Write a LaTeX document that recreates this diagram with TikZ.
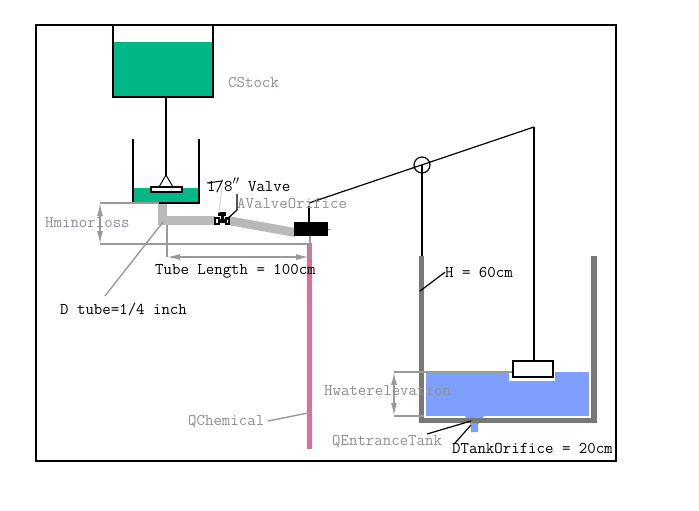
\documentclass[tikz,border=0pt]{standalone}
\usepackage{fontspec}
\usetikzlibrary{arrows.meta}
\definecolor{stockgreen}{HTML}{00B788}
\definecolor{tubegray}{HTML}{B9B9B9}
\definecolor{wallgray}{HTML}{787878}
\definecolor{dimgray}{HTML}{9A9A9A}
\definecolor{labelgray}{HTML}{8E8E96}
\definecolor{waterblue}{HTML}{7F9FFF}
\definecolor{chempink}{HTML}{DB7093}
\tikzset{
    lbl/.style={inner sep=0pt, font=\ttfamily\fontsize{16.4}{18}\selectfont},
    graylbl/.style={lbl, text=labelgray},
    wall/.style={draw=black, line width=2pt},
    dim/.style={draw=dimgray, line width=2pt},
    dimarrow/.style={draw=dimgray, line width=1.5pt, {Latex[length=13pt,width=6pt]}-{Latex[length=13pt,width=6pt]}},
    leader/.style={draw=black, line width=1.2pt},
    grayleader/.style={draw=dimgray, line width=1.4pt}
}

\begin{document}
\begin{tikzpicture}[x=1pt, y=-1pt]
\useasboundingbox (0,0) rectangle (699,511);

% fills first
\fill[stockgreen] (114,42) rectangle (212,96);
\fill[stockgreen] (134,188) rectangle (198,202);
\fill[tubegray] (158,203) rectangle (167,225);
\fill[tubegray] (167,216) rectangle (215,225);
\fill[tubegray] (228,216) -- (295,228) -- (295,237) -- (228,225) -- cycle;
\fill[chempink] (307,243) rectangle (312,449);
\fill[waterblue] (426,372) rectangle (589,416);
\fill[waterblue] (465,416) -- (484,416) -- (478,425) -- (478,432) -- (471,432) -- (471,425) -- cycle;
\fill[white] (509,372) rectangle (555,381);
\fill[wallgray] (419,256) rectangle (424,423);
\fill[wallgray] (591,256) rectangle (597,423);
\fill[wallgray] (419,418) rectangle (597,423);

% frame and tanks
\draw[wall] (36,25) rectangle (616,461);
\draw[wall] (113,25) -- (113,97) -- (213,97) -- (213,25);
\draw[wall] (133,139) -- (133,203) -- (199,203) -- (199,139);
\draw[wall] (166,97) -- (166,176);

% float valve in the small tank
\coordinate (apex) at (166,175);
\draw[draw=black, line width=1pt] (apex) -- (159,187);
\draw[draw=black, line width=1pt] (apex) -- (173,187);
\node[draw=black, fill=white, line width=1.5pt, minimum width=31pt, minimum height=5pt, inner sep=0pt] (floatsmall) at (166.5,189.5) {};

% dimensions
\coordinate (lossTop) at (100,203);
\coordinate (lossBot) at (100,244);
\coordinate (tubeLeft) at (167,257);
\coordinate (tubeRight) at (309,257);
\draw[dim] (lossTop) -- (159,203);
\draw[dim] (lossBot) -- (310,244);
\draw[dimarrow] (lossTop) -- (lossBot);
\draw[dim] (167,225) -- (tubeLeft);
\draw[dim] (310,236) -- (310,258);
\draw[dimarrow] (tubeLeft) -- (tubeRight);
\coordinate (waterTop) at (394,372);
\coordinate (waterBot) at (394,416);
\draw[dim] (waterTop) -- (513,372);
\draw[dim] (waterBot) -- (424,416);
\draw[dimarrow] (waterTop) -- (waterBot);

% valve
\draw[black, line width=2pt] (215,217.5) rectangle (218.5,224);
\draw[black, line width=2pt] (225.5,217.5) rectangle (229,224);
\fill[black] (218,219) rectangle (226,222.5);
\fill[black] (220.5,214) rectangle (223.5,220);
\fill[black] (218,211.5) rectangle (226,215.5);

% orifice block and lever
\node[fill=black, minimum width=34pt, minimum height=14pt, inner sep=0pt] (orifice) at (311,229) {};
\draw[dimgray, line width=1pt] (orifice.east) -- ++(3,0);
\coordinate (leverL) at (309,203);
\coordinate (leverR) at (534,127);
\node[circle, draw=black, line width=1.2pt, minimum size=16pt, inner sep=0pt] (pivot) at (422,165) {};
\draw[black, line width=1.2pt] (leverL) -- (leverR);
\draw[wall] (leverL) ++(0,3) -- (orifice.north -| leverL);
\draw[wall] (pivot.center) -- (422,256);
\node[draw=black, fill=white, line width=1.5pt, minimum width=40pt, minimum height=16pt, inner sep=0pt] (floatbig) at (533,369) {};
\draw[wall] (leverR) -- (floatbig.north -| leverR);

% labels
\node[graylbl, anchor=west] (cstock) at (228,82.3) {CStock};
\node[lbl, anchor=west] (valve) at (207,185.3) {1/8$''$ Valve};
\node[graylbl, anchor=west] (avalve) at (237,203.3) {AValveOrifice};
\node[graylbl, anchor=west] (hminor) at (45,222.3) {Hminorloss};
\node[lbl, anchor=west] (tubelen) at (155,271.3) {Tube Length = 100cm};
\node[lbl, anchor=west] (dtube) at (60,309.3) {D tube=1/4 inch};
\node[lbl, anchor=west] (hlabel) at (445,272.3) {H = 60cm};
\node[graylbl, anchor=west] (hwater) at (324,390.3) {Hwaterelevation};
\node[graylbl, anchor=west] (qchem) at (188,421.3) {QChemical};
\node[graylbl, anchor=west] (qentr) at (332,441.3) {QEntranceTank};
\node[lbl, anchor=west] (dtank) at (452,448.3) {DTankOrifice = 20cm};

% leaders
\coordinate (tubeJoint) at (163,222);
\coordinate (wallMark) at (420,291);
\coordinate (chemMark) at (308,413);
\coordinate (funnelL) at (471,421);
\coordinate (funnelB) at (471,425);
\coordinate (valveMark) at (224,222);
\coordinate (valveTop) at (219,213);
\coordinate (entrStart) at (427,434);
\coordinate (tankStart) at (455,443);
\draw[grayleader] (105,296) -- (tubeJoint);
\draw[leader] (hlabel.west) -- (wallMark);
\draw[grayleader] (268,421) -- (chemMark);
\draw[leader] (entrStart) -- (funnelL);
\draw[leader] (tankStart) -- (funnelB);
\draw[leader] (237,194) -- (237,210) -- (valveMark);
\draw[draw=black, line width=1pt] (207,183) -- (222,181);
\draw[draw=black!15, line width=1.2pt] (222,186) -- (valveTop);
\end{tikzpicture}
\end{document}
